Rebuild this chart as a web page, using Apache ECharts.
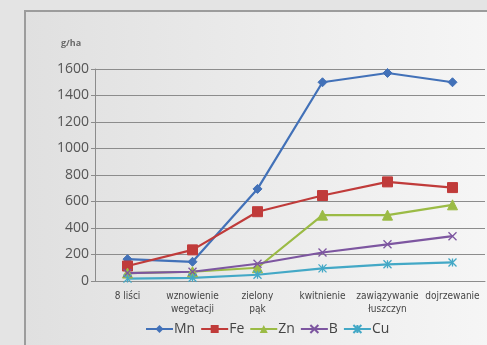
<!DOCTYPE html>
<html>
<head>
<meta charset="utf-8">
<script src="https://cdn.jsdelivr.net/npm/echarts@6/dist/echarts.min.js"></script>
<style>
  html, body { margin: 0; padding: 0; }
  #chart { width: 487px; height: 345px; }
</style>
</head>
<body>
<div id="chart"></div>
<script>
// Growth stages (x axis)
const stages = ['8 liści', 'wznowienie\nwegetacji', 'zielony\npąk', 'kwitnienie', 'zawiązywanie\nłuszczyn', 'dojrzewanie'];

// Micronutrient uptake, g/ha
const mn = [165, 145, 695, 1500, 1570, 1500];
const fe = [113, 235, 523, 645, 748, 705];
const zn = [60, 70, 100, 497, 497, 575];
const b  = [60, 70, 130, 215, 277, 338];
const cu = [18, 24, 47, 95, 126, 140];

const yTicks = { min: 0, max: 1600, step: 200 };

const crossPath = 'path://M0,0L10,10M10,0L0,10';
const starPath = 'path://M0,0L10,10M10,0L0,10M5,0L5,10';

function series(name, data, color, symbol, size, extra) {
  return Object.assign({
    name: name,
    type: 'line',
    data: data,
    symbol: symbol,
    symbolSize: size,
    showAllSymbol: true,
    lineStyle: { color: color, width: 2.2 },
    itemStyle: { color: color, borderColor: color },
    emphasis: { disabled: true }
  }, extra || {});
}

const chart = echarts.init(document.getElementById('chart'), null, { renderer: 'canvas' });
chart.setOption({
  animation: false,
  backgroundColor: '#e4e4e4',
  graphic: [
    {
      type: 'rect',
      z: -10,
      shape: { x: 25, y: 11, width: 470, height: 345 },
      style: {
        fill: new echarts.graphic.LinearGradient(0, 0, 1, 0, [
          { offset: 0, color: '#e0e0e0' },
          { offset: 1, color: '#f6f6f6' }
        ]),
        stroke: '#9c9c9c',
        lineWidth: 2
      }
    },
    {
      type: 'text',
      left: 61, top: 39,
      style: { text: 'g/ha', fill: '#6b6b6b', font: 'bold 9px "Open Sans", sans-serif' }
    }
  ],
  grid: { left: 95, right: 2, top: 69, bottom: 64 },
  xAxis: {
    type: 'category',
    data: stages,
    boundaryGap: true,
    axisLine: { lineStyle: { color: '#8c8c8c', width: 1 } },
    axisTick: { show: false },
    axisLabel: {
      color: '#454545',
      fontFamily: '"Liberation Sans Narrow", "DejaVu Sans Condensed", sans-serif',
      fontSize: 10,
      lineHeight: 13,
      margin: 9,
      interval: 0
    }
  },
  yAxis: {
    type: 'value',
    min: yTicks.min,
    max: yTicks.max,
    interval: yTicks.step,
    axisLine: { show: true, lineStyle: { color: '#8c8c8c', width: 1 } },
    axisTick: { show: true, length: 4, lineStyle: { color: '#8c8c8c' } },
    splitLine: { lineStyle: { color: '#8c8c8c', width: 1 } },
    axisLabel: {
      color: '#555555',
      fontFamily: '"Open Sans", sans-serif',
      fontSize: 14,
      margin: 6,
      formatter: function (v) { return String(v); }
    }
  },
  legend: {
    bottom: 4,
    left: 140,
    itemWidth: 27,
    itemHeight: 10,
    itemGap: 5,
    textStyle: { color: '#444444', fontSize: 14, fontFamily: '"Open Sans", sans-serif', padding: [0, 0, 0, -4] },
    data: ['Mn', 'Fe', 'Zn', 'B', 'Cu']
  },
  series: [
    series('Mn', mn, '#4271b8', 'diamond', 9),
    series('Fe', fe, '#c03b3a', 'rect', 10),
    series('Zn', zn, '#9bbb45', 'triangle', 10),
    series('B', b, '#7d56a0', crossPath, 8, { itemStyle: { color: 'none', borderColor: '#7d56a0', borderWidth: 1.3 } }),
    series('Cu', cu, '#43a8c6', starPath, 8, { itemStyle: { color: 'none', borderColor: '#43a8c6', borderWidth: 1.3 } })
  ]
});
</script>
</body>
</html>
